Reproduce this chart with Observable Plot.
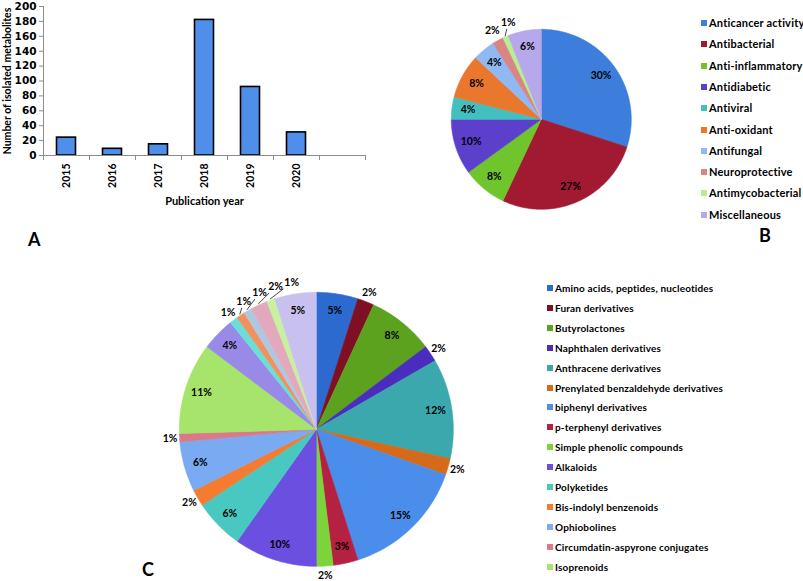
<!DOCTYPE html>
<html><head><meta charset="utf-8">
<script src="https://cdn.jsdelivr.net/npm/d3@7"></script>
<script src="https://cdn.jsdelivr.net/npm/@observablehq/plot@0.6"></script>
<style>
body{margin:0;background:#fff;}
#fig{position:relative;width:803px;height:581px;overflow:hidden;font-family:Lato,"Open Sans",sans-serif;font-weight:bold;color:#000;}
.panel{position:absolute;}
.panel svg{overflow:visible;}
.letter{position:absolute;font-size:18px;font-weight:bold;line-height:18px;}
.legend{position:absolute;left:0;top:0;}
.legend .row{position:absolute;white-space:nowrap;display:flex;align-items:center;height:14px;line-height:14px;}
.legend .sw{display:inline-block;margin-right:2px;flex:none;}
</style></head><body><div id="fig"></div>
<script>
// ---------- Panel A data ----------
const years = ["2015", "2016", "2017", "2018", "2019", "2020"];
const counts = [24, 9, 15, 182, 92, 31];
const yTicks = [0, 20, 40, 60, 80, 100, 120, 140, 160, 180, 200];

// ---------- Panel B data ----------
const activityNames = ["Anticancer activity", "Antibacterial", "Anti-inflammatory", "Antidiabetic", "Antiviral", "Anti-oxidant", "Antifungal", "Neuroprotective", "Antimycobacterial", "Miscellaneous"];
const activityPct = [30, 27, 8, 10, 4, 8, 4, 2, 1, 6];
const activityColors = ["#3d7edc", "#a11a32", "#6fc52b", "#5c40cc", "#42c0c0", "#e9782e", "#90b8f2", "#d88585", "#b6f08e", "#b6a8ea"];

// ---------- Panel C data ----------
const classNames = ["Amino acids, peptides, nucleotides", "Furan derivatives", "Butyrolactones", "Naphthalen derivatives", "Anthracene derivatives", "Prenylated benzaldehyde derivatives", "biphenyl derivatives", "p-terphenyl derivatives", "Simple phenolic compounds", "Alkaloids", "Polyketides", "Bis-indolyl benzenoids", "Ophiobolines", "Circumdatin-aspyrone conjugates", "Isoprenoids"];
const classExtraKeys = ["Other 16", "Other 17", "Other 18", "Other 19", "Other 20", "Other 21", "Other 22"];
const classPct = [5, 2, 8, 2, 12, 2, 15, 3, 2, 10, 6, 2, 6, 1, 11, 4, 1, 1, 1, 2, 1, 5];
const classColors = ["#2d6ad0", "#7f0f22", "#5da21e", "#4a2dbe", "#3ba8ad", "#d56a1a", "#4a8deb", "#b52140", "#7cd33c", "#6b4fe0", "#49c8c2", "#f47b2f", "#79aaf2", "#d97a8b", "#a6e46c", "#9a8ae8", "#6adfd8", "#f2915e", "#afc8e2", "#e2a9bd", "#c8f0a0", "#c8c0ee"];
</script>
<script>
const fig = document.getElementById("fig");
function place(node, left, top) {
  const d = document.createElement("div");
  d.className = "panel";
  d.style.left = left + "px"; d.style.top = top + "px";
  d.appendChild(node); fig.appendChild(d); return d;
}
const baseStyle = {fontFamily: "Lato, 'Open Sans', sans-serif", fontWeight: "bold", color: "#000", background: "transparent", overflow: "visible"};

// ---------- Panel A: bar chart ----------
const barData = years.map((y, i) => ({year: y, i, n: counts[i]}));
const nSlots = years.length + 1;
const bar = Plot.plot({
  width: 370, height: 215,
  marginLeft: 43, marginRight: 5, marginTop: 6, marginBottom: 60,
  style: baseStyle,
  x: {domain: [0, nSlots]},
  y: {domain: [0, 200]},
  marks: [
    Plot.rectY(barData, {x1: d => d.i, x2: d => d.i + 1, y: "n", insetLeft: 13.5, insetRight: 13.5, fill: "#4f8fea", stroke: "#000", strokeWidth: 1.6}),
    Plot.ruleY([0], {stroke: "#8c8c8c"}),
    Plot.ruleX([0], {stroke: "#8c8c8c"}),
    Plot.axisY({ticks: yTicks, tickSize: 4, stroke: "#8c8c8c", fontSize: 10.5, fontFamily: "'DejaVu Sans', sans-serif", tickPadding: 3, label: null}),
    Plot.axisY({ticks: [], tickSize: 0, fontSize: 10.5, label: "Number of isolated metabolites", labelAnchor: "center", labelArrow: "none", labelOffset: 40, dy: 4}),
    Plot.axisX({ticks: d3.range(0, nSlots + 1), tickSize: 5, stroke: "#8c8c8c", tickFormat: () => "", label: null}),
    Plot.axisX({ticks: years.map((_, i) => i + 0.5), tickSize: 0, tickFormat: v => years[Math.floor(v)], tickRotate: -90, fontSize: 10.5, tickPadding: 8, label: null}),
    Plot.text(["Publication year"], {frameAnchor: "bottom", dy: 49, fontSize: 11, fontWeight: "bold"})
  ]
});
place(bar, 0, 0);

// ---------- pie helper ----------
const ctx = document.createElement("canvas").getContext("2d");
function pieChart({values, keys, colors, r, cx, cy, inR, outR, smallMax, fontSize}) {
  const k = 1.32, size = 2 * k * r;
  const arcs = d3.pie().sort(null).value(d => d)(values);
  const pts = [];
  arcs.forEach((a, i) => {
    const key = keys[i];
    pts.push({key, x: 0, y: 0});
    const n = Math.max(2, Math.ceil((a.endAngle - a.startAngle) / (Math.PI / 360)));
    for (let j = 0; j <= n; j++) {
      const t = a.startAngle + (a.endAngle - a.startAngle) * j / n;
      pts.push({key, x: Math.sin(t), y: -Math.cos(t)});
    }
    pts.push({key, x: 0, y: 0});
  });
  ctx.font = `bold ${fontSize}px Lato`;
  const placed = [];
  arcs.forEach((a, i) => {
    const v = values[i], mid = (a.startAngle + a.endAngle) / 2, txt = v + "%";
    const w = ctx.measureText(txt).width + 1, h = fontSize * 1.05;
    const outside = v <= smallMax;
    const rr = (outside ? outR : inR) * r;
    const bx = Math.sin(mid) * rr, by = -Math.cos(mid) * rr;
    let px = bx, py = by, t = 0;
    if (outside) {
      const tx = Math.cos(mid), ty = Math.sin(mid);
      const hit = () => placed.some(p => Math.abs(p.px - px) < (p.w + w) / 2 && Math.abs(p.py - py) < (p.h + h) / 2);
      while (hit() && t < 100) { t += 0.5; px = bx + tx * t; py = by + ty * t; }
    }
    placed.push({px, py, w, h, txt, mid, t, key: keys[i]});
  });
  const labels = placed.map(p => ({x: p.px / r, y: p.py / r, text: p.txt}));
  const leaders = [];
  placed.filter(p => p.t > 2).forEach(p => {
    const ax = Math.sin(p.mid) * r * 1.01, ay = -Math.cos(p.mid) * r * 1.01;
    const dx = ax - p.px, dy = ay - p.py;
    const s = Math.min((p.w / 2 + 1) / Math.max(Math.abs(dx), 1e-6), (p.h / 2 + 1) / Math.max(Math.abs(dy), 1e-6));
    leaders.push({key: p.key, x: (p.px + dx * s) / r, y: (p.py + dy * s) / r});
    leaders.push({key: p.key, x: ax / r, y: ay / r});
  });
  const chart = Plot.plot({
    width: size, height: size, margin: 0,
    style: baseStyle,
    x: {domain: [-k, k], range: [0, size], axis: null},
    y: {domain: [-k, k], range: [0, size], axis: null},
    color: {domain: keys, range: colors},
    marks: [
      Plot.line(pts, {x: "x", y: "y", z: "key", fill: "key", stroke: "key", strokeWidth: 0.6, curve: "linear"}),
      Plot.line(leaders, {x: "x", y: "y", z: "key", stroke: "#333", strokeWidth: 0.9}),
      Plot.text(labels, {x: "x", y: "y", text: "text", fontSize, fontWeight: "bold", fill: "#000"})
    ]
  });
  place(chart, cx - k * r, cy - k * r);
}

function legend(names, colors, x, y0, step, fontSize, sw, spacing) {
  const L = document.createElement("div");
  L.className = "legend";
  names.forEach((n, i) => {
    const row = document.createElement("div");
    row.className = "row";
    row.style.left = x + "px";
    row.style.top = (y0 + i * step - 7) + "px";
    row.style.fontSize = fontSize + "px";
    row.style.letterSpacing = spacing + "px";
    const s = document.createElement("span");
    s.className = "sw"; s.style.width = sw + "px"; s.style.height = sw + "px"; s.style.background = colors[i];
    row.appendChild(s);
    row.appendChild(document.createTextNode(n));
    L.appendChild(row);
  });
  fig.appendChild(L);
}

// ---------- Panel B ----------
pieChart({values: activityPct, keys: activityNames, colors: activityColors, r: 90, cx: 541, cy: 119, inR: 0.82, outR: 1.13, smallMax: 2, fontSize: 10.5});
legend(activityNames, activityColors, 701, 23, 21.3, 11, 6, 0.2);

// ---------- Panel C ----------
pieChart({values: classPct, keys: classNames.concat(classExtraKeys), colors: classColors, r: 137, cx: 316, cy: 429, inR: 0.88, outR: 1.07, smallMax: 2, fontSize: 10.5});
legend(classNames, classColors, 547, 288, 19.9, 10, 6, 0.15);

// ---------- panel letters ----------
[["A", 34, 239], ["B", 765, 235], ["C", 148, 569]].forEach(([t, x, y]) => {
  const d = document.createElement("div");
  d.className = "letter"; d.textContent = t;
  d.style.left = (x - 6) + "px"; d.style.top = (y - 9.5) + "px";
  fig.appendChild(d);
});
</script>
</body></html>
